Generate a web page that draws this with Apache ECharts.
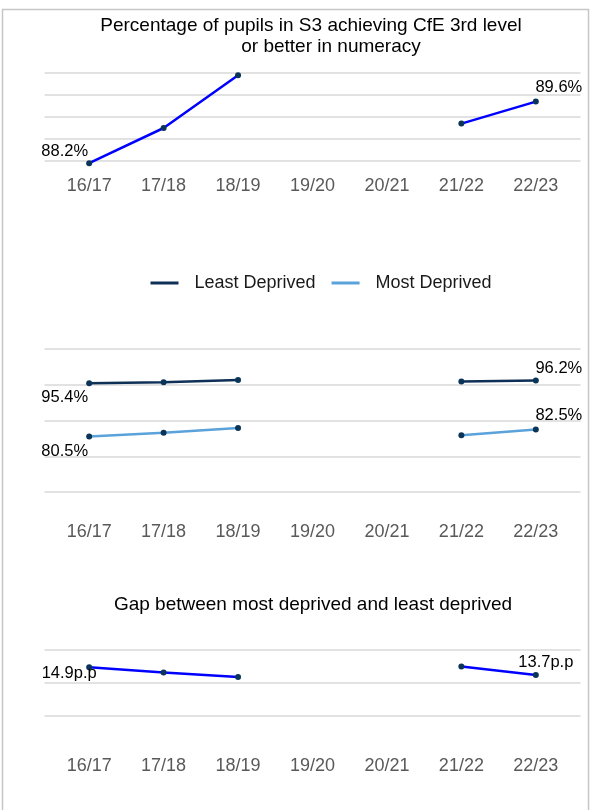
<!DOCTYPE html>
<html>
<head>
<meta charset="utf-8">
<title>S3 numeracy – CfE 3rd level</title>
<script src="https://cdn.jsdelivr.net/npm/echarts@6/dist/echarts.min.js"></script>
<style>
  html, body { margin: 0; padding: 0; background: #ffffff; }
  #chart { width: 591px; height: 810px; }
</style>
</head>
<body>
<div id="chart"></div>
<script>
// School years on the horizontal axis (no data for the two COVID years)
const years = ['16/17', '17/18', '18/19', '19/20', '20/21', '21/22', '22/23'];

// % of S3 pupils achieving CfE 3rd level or better in numeracy
const allPupils = [88.2, 89.0, 90.2, null, null, 89.1, 89.6];

// Split by deprivation (SIMD)
const leastDeprived = [95.4, 95.7, 96.3, null, null, 95.9, 96.2];
const mostDeprived = [80.5, 81.6, 82.9, null, null, 80.9, 82.5];

// Gap in percentage points between least and most deprived
const gapPP = [14.9, 14.1, 13.4, null, null, 15.0, 13.7];

const FONT = '"Liberation Sans", Arial, Helvetica, sans-serif';
const MARKER = '#0b3558';

// Turn a value list into [index, value] points; first and last points get a value label
function points(values, firstOffset, lastOffset, fmt) {
  const lastIdx = values.length - 1;
  return values.map((v, i) => {
    const item = { value: [i, v == null ? '-' : v] };
    if (i === 0 || i === lastIdx) {
      item.label = {
        show: true,
        position: 'inside',
        align: 'center',
        verticalAlign: 'middle',
        offset: i === 0 ? firstOffset : lastOffset,
        formatter: p => fmt(p.value[1]),
        color: '#000000',
        fontFamily: FONT,
        fontSize: 16.5
      };
    }
    return item;
  });
}

const pct = v => v.toFixed(1) + '%';
const pp = v => v.toFixed(1) + 'p.p';

function xAxisFor(gridIndex, margin) {
  return {
    type: 'value',
    gridIndex: gridIndex,
    min: -0.6,
    max: 6.6,
    splitNumber: 7,
    axisLine: { show: false },
    axisTick: { show: false },
    splitLine: { show: false },
    axisLabel: {
      margin: margin,
      color: '#595959',
      fontFamily: FONT,
      fontSize: 18,
      showMinLabel: false,
      showMaxLabel: false,
      formatter: v => (Number.isInteger(v) && years[v] !== undefined) ? years[v] : ''
    }
  };
}

function yAxisFor(gridIndex, min, max, interval) {
  return {
    type: 'value',
    gridIndex: gridIndex,
    min: min,
    max: max,
    interval: interval,
    axisLine: { show: false },
    axisTick: { show: false },
    axisLabel: { show: false },
    splitLine: { show: true, lineStyle: { color: '#d9d9d9', width: 1.5 } }
  };
}

function lineSeries(name, xi, data, lineColor) {
  return {
    name: name,
    type: 'line',
    xAxisIndex: xi,
    yAxisIndex: xi,
    data: data,
    connectNulls: false,
    clip: false,
    symbol: 'circle',
    symbolSize: 6,
    showAllSymbol: true,
    itemStyle: { color: MARKER },
    lineStyle: { color: lineColor, width: 2.5 },
    emphasis: { disabled: true },
    animation: false
  };
}

const chart = echarts.init(document.getElementById('chart'), null, { renderer: 'canvas' });

chart.setOption({
  backgroundColor: '#ffffff',
  animation: false,
  graphic: [
    {
      type: 'rect',
      shape: { x: 2.5, y: 9.5, width: 586, height: 820 },
      style: { fill: 'none', stroke: '#c6c6c6', lineWidth: 1.5 },
      silent: true
    },
    {
      type: 'text', x: 311, y: 26,
      style: { text: 'Percentage of pupils in S3 achieving CfE 3rd level', fill: '#000000',
               font: '19px ' + FONT, textAlign: 'center', textVerticalAlign: 'middle' }
    },
    {
      type: 'text', x: 331, y: 47,
      style: { text: 'or better in numeracy', fill: '#000000',
               font: '19px ' + FONT, textAlign: 'center', textVerticalAlign: 'middle' }
    },
    {
      type: 'text', x: 313, y: 605,
      style: { text: 'Gap between most deprived and least deprived', fill: '#000000',
               font: '19px ' + FONT, textAlign: 'center', textVerticalAlign: 'middle' }
    }
  ],
  legend: {
    left: 145.5,
    top: 269,
    icon: 'rect',
    itemWidth: 28,
    itemHeight: 3,
    itemGap: 16,
    selectedMode: false,
    textStyle: { color: '#1a1a1a', fontFamily: FONT, fontSize: 18, padding: [0, 0, 0, 11] },
    data: [
      { name: 'Least Deprived', itemStyle: { color: '#0e2f56' } },
      { name: 'Most Deprived', itemStyle: { color: '#5aa2da' } }
    ]
  },
  grid: [
    { left: 44.5, right: 10.5, top: 73, height: 88 },
    { left: 44.5, right: 10.5, top: 349, height: 143 },
    { left: 44.5, right: 10.5, top: 650, height: 66 }
  ],
  xAxis: [xAxisFor(0, 16), xAxisFor(1, 31), xAxisFor(2, 41)],
  yAxis: [
    yAxisFor(0, 88.25, 90.25, 0.5),
    yAxisFor(1, 65, 105, 10),
    yAxisFor(2, 7.5, 17.5, 5)
  ],
  series: [
    lineSeries('All pupils', 0, points(allPupils, [-24.5, -12], [23, -14], pct), '#0000ff'),
    lineSeries('Least Deprived', 1, points(leastDeprived, [-24.5, 14.5], [23, -12.5], pct), '#0e2f56'),
    lineSeries('Most Deprived', 1, points(mostDeprived, [-24.5, 14.5], [23, -13.5], pct), '#5aa2da'),
    lineSeries('Gap', 2, points(gapPP, [-20, 6], [10, -13], pp), '#0000ff')
  ]
});
</script>
</body>
</html>
